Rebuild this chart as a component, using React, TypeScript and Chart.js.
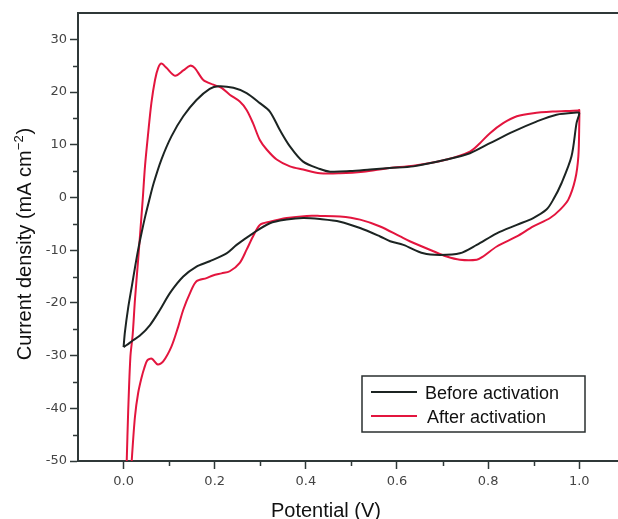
import React, { useEffect, useRef } from 'react';
import { Chart, registerables } from 'chart.js';

Chart.register(...registerables);

// ---- data ----
const seriesLabels = ['Before activation', 'After activation'];
const xTitle = 'Potential (V)';
const yTitleMain = 'Current density (mA cm';
const yTitleSup = '\u22122';
const yTitleEnd = ')';

const xTickValues = [0, 0.2, 0.4, 0.6, 0.8, 1.0];
const xMinorTicks = [0.1, 0.3, 0.5, 0.7, 0.9];
const yTickValues = [-50, -40, -30, -20, -10, 0, 10, 20, 30];
const yMinorTicks = [-45, -35, -25, -15, -5, 5, 15, 25];

const beforePotential = [
  0.000, 0.003, 0.010, 0.018, 0.025, 0.032, 0.040, 0.048, 0.056, 0.066, 0.083, 0.105, 0.131, 0.160,
  0.189, 0.208, 0.241, 0.270, 0.299, 0.321, 0.343, 0.365, 0.394, 0.431, 0.453, 0.497, 0.541, 0.584,
  0.636, 0.709, 0.760, 0.804, 0.855, 0.906, 0.950, 0.994, 1.000,
  0.994, 0.983, 0.961, 0.943, 0.928, 0.899, 0.863, 0.819, 0.775, 0.738, 0.694, 0.658, 0.614, 0.585,
  0.563, 0.519, 0.475, 0.431, 0.394, 0.358, 0.321, 0.284, 0.248, 0.226, 0.189, 0.160, 0.131, 0.102,
  0.080, 0.058, 0.036, 0.021, 0.007, 0.000,
];
const beforeCurrent = [
  -28.4, -25.5, -21.0, -16.9, -13.3, -9.9, -6.5, -3.4, -0.6, 2.7, 7.2, 11.6, 15.4, 18.5,
  20.6, 21.1, 20.8, 19.8, 17.9, 16.3, 12.8, 9.7, 6.8, 5.4, 4.9, 5.0, 5.3, 5.6,
  5.9, 7.2, 8.4, 10.3, 12.5, 14.4, 15.7, 16.1, 16.0,
  14.1, 7.8, 2.7, -0.4, -2.3, -3.9, -5.2, -6.8, -9.0, -10.6, -10.9, -10.6, -9.0, -8.3,
  -7.4, -5.8, -4.6, -4.1, -3.9, -4.2, -4.9, -6.8, -9.0, -10.6, -12.1, -13.1, -15.0, -18.1,
  -21.3, -24.2, -26.2, -27.1, -28.0, -28.4,
];

const afterPotential = [
  0.006, 0.007, 0.010, 0.015, 0.020, 0.025, 0.032, 0.042, 0.047, 0.054, 0.061, 0.069, 0.076, 0.083,
  0.094, 0.113, 0.131, 0.146, 0.156, 0.175, 0.197, 0.215, 0.233, 0.255, 0.270, 0.284, 0.299, 0.314,
  0.336, 0.365, 0.394, 0.431, 0.475, 0.526, 0.584, 0.636, 0.709, 0.760, 0.782, 0.804, 0.833, 0.863,
  0.899, 0.943, 0.998, 1.000,
  1.000, 0.998, 0.991, 0.976, 0.958, 0.936, 0.899, 0.863, 0.819, 0.789, 0.775, 0.738, 0.709, 0.680,
  0.628, 0.607, 0.563, 0.519, 0.475, 0.431, 0.402, 0.358, 0.321, 0.299, 0.284, 0.270, 0.255, 0.233,
  0.215, 0.196, 0.182, 0.160, 0.146, 0.131, 0.120, 0.105, 0.087, 0.075, 0.062, 0.052, 0.045, 0.040,
  0.032, 0.025, 0.018, 0.017,
];
const afterCurrent = [
  -52.0, -49.8, -40.9, -30.2, -26.0, -19.4, -11.8, -0.4, 5.9, 12.2, 17.9, 22.3, 24.6, 25.4,
  24.6, 23.1, 24.1, 25.0, 24.6, 22.3, 21.4, 20.8, 19.5, 18.2, 16.6, 14.1, 10.9, 9.1,
  7.2, 5.9, 5.3, 4.6, 4.6, 4.9, 5.6, 6.0, 7.2, 8.7, 10.3, 12.2, 14.1, 15.4,
  16.0, 16.3, 16.5, 16.6,
  14.1, 7.8, 3.4, -0.4, -2.3, -3.9, -5.5, -7.4, -9.3, -11.2, -11.8, -11.8, -11.2, -10.2,
  -8.3, -7.4, -5.5, -4.2, -3.6, -3.5, -3.5, -3.9, -4.6, -5.2, -7.4, -9.9, -12.4, -14.0,
  -14.4, -14.8, -15.3, -15.9, -18.1, -21.3, -24.5, -28.3, -31.1, -31.7, -30.6, -30.9, -32.5, -34.0,
  -37.1, -41.6, -49.8, -52.0,
];

const toPoints = (xs: number[], ys: number[]) => xs.map((x, i) => ({ x, y: ys[i] }));

const FONT = '"Liberation Sans", Arial, sans-serif';
const TICK_FONT = '"DejaVu Sans", sans-serif';
const AXIS_COLOR = '#2f3838';
const BLACK_LINE = '#1c2422';
const RED_LINE = '#e3153e';

const decorPlugin = {
  id: 'decor',
  afterDraw(chart: any) {
    const ctx = chart.ctx as CanvasRenderingContext2D;
    const area = chart.chartArea;
    const xs = chart.scales.x;
    const ys = chart.scales.y;
    ctx.save();
    // top frame line
    ctx.strokeStyle = AXIS_COLOR;
    ctx.lineWidth = 2;
    ctx.beginPath();
    ctx.moveTo(area.left - 1, area.top);
    ctx.lineTo(area.right, area.top);
    ctx.stroke();
    // minor ticks
    ctx.lineWidth = 1.5;
    ctx.beginPath();
    xMinorTicks.forEach((v) => {
      const px = Math.round(xs.getPixelForValue(v)) + 0.5;
      ctx.moveTo(px, area.bottom);
      ctx.lineTo(px, area.bottom + 5);
    });
    yMinorTicks.forEach((v) => {
      const py = Math.round(ys.getPixelForValue(v)) + 0.5;
      ctx.moveTo(area.left, py);
      ctx.lineTo(area.left - 5, py);
    });
    ctx.stroke();

    // x title
    ctx.fillStyle = '#111';
    ctx.font = `20px ${FONT}`;
    ctx.textAlign = 'center';
    ctx.textBaseline = 'alphabetic';
    ctx.fillText(xTitle, 326, 517);

    // y title (rotated, with superscript)
    const big = `20px ${FONT}`;
    const small = `13px ${FONT}`;
    ctx.font = big;
    const w1 = ctx.measureText(yTitleMain).width;
    const w3 = ctx.measureText(yTitleEnd).width;
    ctx.font = small;
    const w2 = ctx.measureText(yTitleSup).width + 1;
    const total = w1 + w2 + w3;
    ctx.translate(31, 244);
    ctx.rotate(-Math.PI / 2);
    ctx.textAlign = 'left';
    let cx = -total / 2;
    ctx.font = big;
    ctx.fillText(yTitleMain, cx, 0);
    cx += w1;
    ctx.font = small;
    ctx.fillText(yTitleSup, cx, -8);
    cx += w2;
    ctx.font = big;
    ctx.fillText(yTitleEnd, cx, 0);
    ctx.setTransform(1, 0, 0, 1, 0, 0);

    // legend
    ctx.strokeStyle = '#2a2f2f';
    ctx.lineWidth = 1.5;
    ctx.strokeRect(362, 376, 223, 56);
    const colors = [BLACK_LINE, RED_LINE];
    const rows = [392, 416];
    const textX = [425, 427];
    seriesLabels.forEach((label, i) => {
      ctx.strokeStyle = colors[i];
      ctx.lineWidth = 2;
      ctx.beginPath();
      ctx.moveTo(371, rows[i]);
      ctx.lineTo(417, rows[i]);
      ctx.stroke();
      ctx.fillStyle = '#111';
      ctx.font = `18px ${FONT}`;
      ctx.textAlign = 'left';
      ctx.textBaseline = 'alphabetic';
      ctx.fillText(label, textX[i], rows[i] + 6.5);
    });
    ctx.restore();
  },
};

export default function App() {
  const canvasRef = useRef<HTMLCanvasElement | null>(null);

  useEffect(() => {
    const canvas = canvasRef.current;
    if (!canvas) return;
    const chart = new Chart(canvas, {
      type: 'line',
      data: {
        datasets: [
          {
            label: seriesLabels[0],
            data: toPoints(beforePotential, beforeCurrent),
            borderColor: BLACK_LINE,
            borderWidth: 2,
            pointRadius: 0,
            tension: 0.3,
            fill: false,
          },
          {
            label: seriesLabels[1],
            data: toPoints(afterPotential, afterCurrent),
            borderColor: RED_LINE,
            borderWidth: 2,
            pointRadius: 0,
            tension: 0.3,
            fill: false,
          },
        ],
      },
      options: {
        animation: false,
        responsive: false,
        devicePixelRatio: 1,
        layout: { padding: { top: 13, left: 0, right: 0, bottom: 0 } },
        plugins: {
          legend: { display: false },
          tooltip: { enabled: false },
          title: { display: false },
        },
        scales: {
          x: {
            type: 'linear',
            min: -0.1,
            max: 1.085,
            afterFit: (s: any) => { s.height = 58; },
            afterBuildTicks: (s: any) => { s.ticks = xTickValues.map((v) => ({ value: v })); },
            grid: { drawOnChartArea: false, tickLength: 8, tickWidth: 1.5, tickColor: AXIS_COLOR },
            border: { display: true, color: AXIS_COLOR, width: 2 },
            ticks: {
              padding: 5,
              color: '#444',
              font: { family: TICK_FONT, size: 13 },
              callback: (v: any) => Number(v).toFixed(1),
              maxRotation: 0,
            },
          },
          y: {
            type: 'linear',
            min: -50,
            max: 35,
            afterFit: (s: any) => { s.width = 78; },
            afterBuildTicks: (s: any) => { s.ticks = yTickValues.map((v) => ({ value: v })); },
            grid: { drawOnChartArea: false, tickLength: 8, tickWidth: 1.5, tickColor: AXIS_COLOR },
            border: { display: true, color: AXIS_COLOR, width: 2 },
            ticks: {
              padding: 3,
              color: '#444',
              font: { family: TICK_FONT, size: 13 },
              callback: (v: any) => String(v),
            },
          },
        },
      },
      plugins: [decorPlugin],
    });
    return () => chart.destroy();
  }, []);

  return (
    <div style={{ position: 'fixed', left: 0, top: 0, width: 618, height: 519, background: '#fff' }}>
      <canvas ref={canvasRef} width={618} height={519} style={{ display: 'block' }} />
    </div>
  );
}
